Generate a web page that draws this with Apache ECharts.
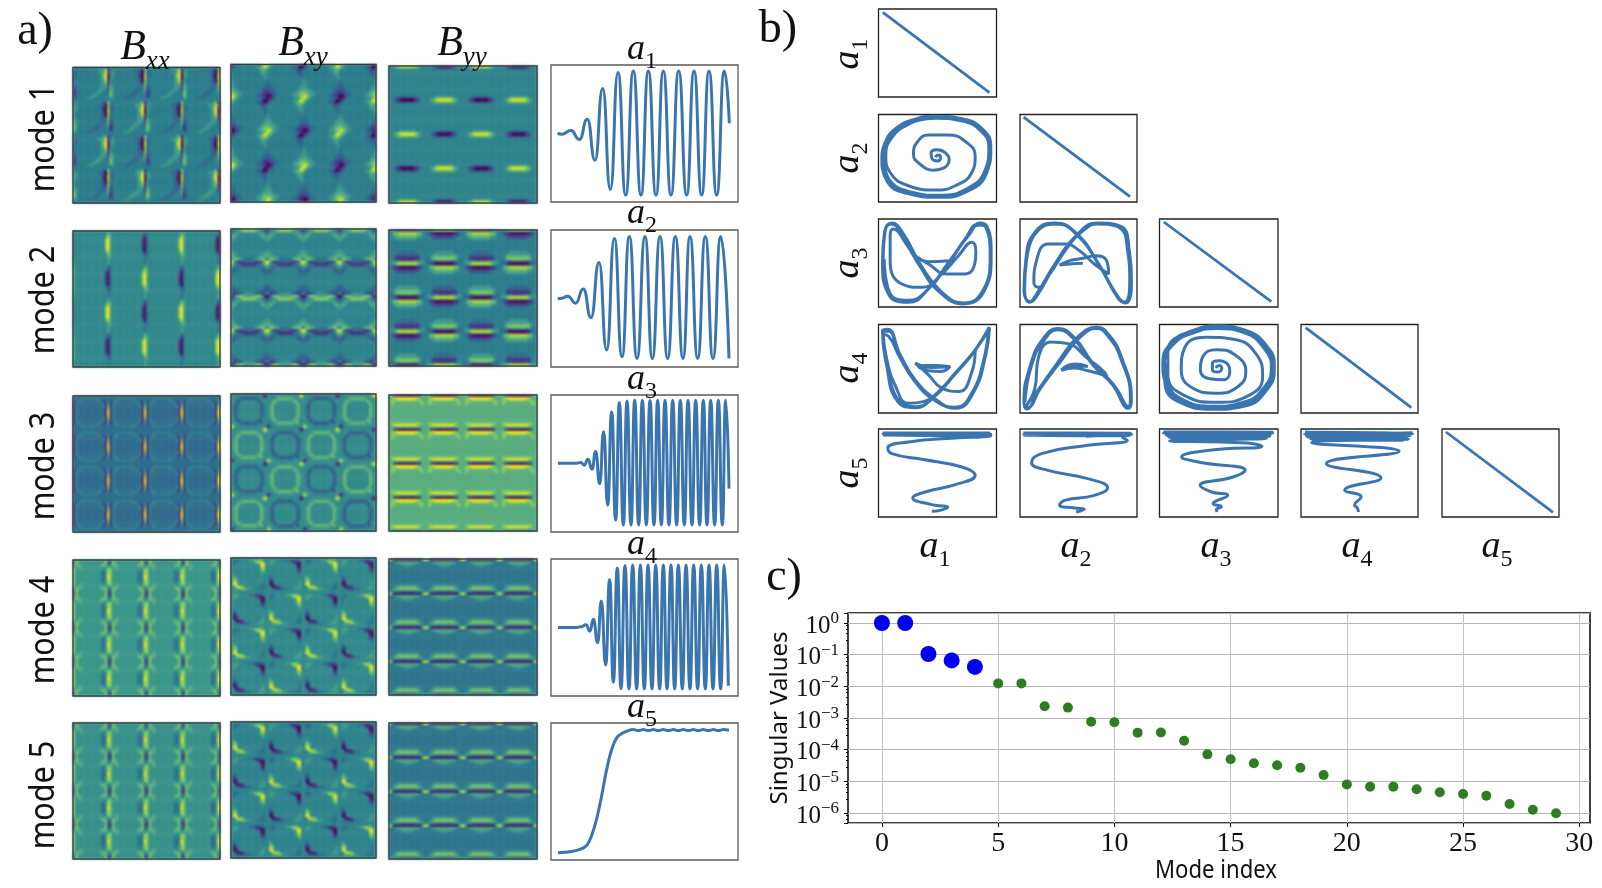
<!DOCTYPE html>
<html><head><meta charset="utf-8">
<style>html,body{margin:0;padding:0;background:#fff}#c{width:1602px;height:888px;filter:blur(0.4px)}</style>
<script src="https://cdn.jsdelivr.net/npm/echarts@6/dist/echarts.min.js"></script>
</head><body><div id="c"></div>
<script>
// ---------- panel c: singular values ----------
const modeIndex=[0,1,2,3,4,5,6,7,8,9,10,11,12,13,14,15,16,17,18,19,20,21,22,23,24,25,26,27,28,29];
const singularValues=[1,1,0.105,0.066,0.041,0.0124,0.0124,0.00234,0.00213,7.65e-4,7.3e-4,3.45e-4,3.5e-4,1.92e-4,7.1e-5,4.95e-5,3.7e-5,3.2e-5,2.7e-5,1.58e-5,8.0e-6,6.8e-6,6.8e-6,5.6e-6,4.5e-6,4.0e-6,3.5e-6,1.92e-6,1.27e-6,9.8e-7];
const xTickValues=[0,5,10,15,20,25,30];

// ---------- panel a: temporal coefficients (extrema) ----------
const a1T=[20,32,60,85,109,132,155,178,201,224,247,270,292,315,337,360,383,407,429,452,474,497,520,535];
const a1V=[1,-2,9,-18,43,-81,136,-169,184,-186,189,-186,189,-186,189,-186,189,-186,189,-186,189,-186,189,31];
const a2T=[20,32,50,74,97,120,144,167,190,213,235,258,282,304,327,350,373,396,417,440,463,486,509,534];
const a2V=[-1,1,7,-14,29,-58,109,-156,181,-176,187,-181,187,-181,187,-181,187,-181,187,-181,187,-181,187,-181];
const a3T=[21,77,89,100,111,123,134,146,158,170,182,194,205,217,228,240,251,263,274,286,297,309,320,331,342,354,365,377,388,400,411,423,434,446,457,468,479,491,502,514,524,534];
const a3V=[1,1,3,-5,13,-17,36,-61,96,-126,156,-171,184,-186,189,-186,191,-186,191,-186,191,-186,191,-186,191,-186,191,-186,191,-186,191,-186,191,-186,191,-186,191,-186,191,-186,191,-76];
const a4T=[21,77,89,105,117,127,140,151,164,176,187,199,210,222,234,245,257,268,280,291,303,314,326,337,348,360,371,382,394,405,417,428,440,451,463,474,486,497,509,520,532];
const a4V=[0,0,2,8,-11,25,-46,80,-113,144,-165,180,-185,187,-186,189,-186,189,-186,189,-186,189,-186,189,-186,189,-186,189,-186,189,-186,189,-186,189,-186,189,-186,189,-186,189,-176];
const a5T=[21,57,87,107,122,137,152,167,182,197,212,232,247,262,277,292,307,322,337,352,367,382,397,412,427,442,457,472,487,502,517,534];
const a5V=[-185,-182,-175,-163,-133,-83,-13,67,127,162,175,184,187,184,187,184,187,184,187,184,187,184,187,184,187,184,187,184,187,184,187,185];

// ---------- panel b: phase portraits (unit: crop pixel on unlabelled axes) ----------
const d11=[[13,10],[333,251]], d22=[[11,8],[333,248]], d33=[[13,9],[334,248]], d44=[[14,9],[334,248]], d55=[[12,9],[336,250]];
const p21=[[170,128],[180,122],[186,128],[178,140],[160,132],[158,116],[175,106],[200,115],[212,136],[195,162],[165,168],[125,150],[105,120],[115,85],[150,62],[210,62],[265,85],[290,125],[280,175],[230,215],[170,228],[90,215],[35,175],[22,125],[40,70],[90,30],[160,10],[240,14],[305,42],[333,95],[322,170],[270,222],[190,244],[90,232],[30,195],[10,140],[20,85],[55,40],[110,14],[170,5],[250,13],[315,47],[337,100],[325,175],[270,230],[180,250],[85,238],[25,200],[12,140],[25,80],[60,38],[110,17],[170,8],[250,16],[312,50],[334,100],[322,172],[268,227],[180,247],[87,235],[28,198],[15,140],[28,82],[62,41],[112,20],[170,11],[248,19],[309,52],[331,100],[319,170],[265,224],[180,244],[90,232],[32,196],[18,140]];
const p31=[[210,125],[150,128],[110,110],[150,135],[205,165],[260,165],[292,100],[280,70],[240,110],[190,165],[130,205],[70,195],[35,125],[35,50],[45,30],[80,70],[130,150],[190,220],[255,252],[310,220],[335,120],[328,30],[305,12],[270,50],[210,130],[150,210],[90,250],[30,225],[12,130],[18,40],[40,12],[75,45],[125,135],[185,215],[250,255],[315,220],[338,110],[325,22],[300,15],[260,60],[205,140],[145,215],[90,247],[30,222],[14,120],[20,35],[38,15],[72,48],[122,138],[182,218],[250,252],[312,218],[335,110],[322,25],[302,18],[263,58],[208,137],[148,212],[90,244],[33,220],[17,120]];
const p32=[[190,133],[150,135],[120,138],[150,125],[190,118],[230,110],[262,125],[268,165],[225,135],[180,95],[135,75],[85,75],[50,125],[42,190],[55,205],[90,165],[140,90],[185,40],[240,14],[300,25],[325,90],[332,190],[315,250],[295,235],[240,140],[175,50],[110,15],[50,40],[20,120],[14,210],[30,250],[55,225],[110,130],[170,50],[235,12],[305,22],[330,90],[337,200],[318,252],[290,225],[235,130],[170,42],[105,12],[45,40],[18,120],[12,215],[30,248],[52,222],[107,133],[167,53],[233,15],[302,25],[327,92],[334,200],[316,249],[293,228],[237,133],[172,45],[107,15],[47,43],[21,120]];
const p41=[[210,125],[170,122],[120,125],[150,138],[185,140],[215,125],[160,128],[110,115],[150,150],[190,190],[240,200],[280,142],[290,80],[262,110],[195,185],[135,230],[90,235],[50,182],[25,105],[14,30],[30,35],[65,100],[110,170],[170,225],[230,249],[280,205],[320,95],[333,10],[295,70],[230,145],[170,210],[110,247],[60,232],[25,125],[12,18],[28,14],[65,90],[110,165],[170,222],[232,250],[282,208],[322,90],[332,8],[292,75],[230,148],[170,212],[110,248],[58,230],[24,120],[14,20],[30,20],[62,92],[107,167],[167,225],[230,247],[279,206],[319,92],[329,14],[289,77],[228,150],[168,215],[112,245],[61,228],[27,120]];
const p42=[[125,135],[165,118],[205,125],[160,122],[125,137],[165,130],[205,138],[250,150],[265,162],[255,142],[205,102],[145,57],[95,52],[55,102],[45,190],[15,247],[55,195],[115,112],[175,37],[230,10],[265,32],[305,102],[335,222],[330,247],[285,182],[225,122],[165,42],[115,14],[75,42],[35,122],[12,230],[20,252],[60,190],[120,108],[180,35],[232,8],[268,30],[308,100],[337,225],[328,250],[282,178],[222,118],[165,40],[115,12],[72,40],[32,120],[12,235],[22,248],[63,188],[122,111],[182,38],[232,12],[265,33],[305,102],[334,222],[326,246],[280,180],[220,120],[163,43],[115,16],[75,44],[35,122],[15,232]];
const p43=[[168,129],[178,122],[186,130],[175,142],[158,135],[158,115],[178,108],[205,120],[210,140],[190,165],[150,162],[122,135],[130,95],[170,75],[225,90],[258,140],[235,185],[170,205],[100,190],[65,135],[75,70],[140,38],[225,45],[290,90],[308,155],[270,210],[170,232],[75,212],[25,150],[25,80],[85,25],[170,12],[260,24],[318,78],[335,135],[310,195],[240,235],[160,246],[70,225],[20,170],[12,110],[40,55],[100,20],[170,6],[260,20],[322,72],[340,125],[320,190],[250,240],[160,250],[70,232],[20,180],[10,115],[38,52],[100,18],[170,4],[258,18],[325,70],[343,125],[323,192],[252,244],[160,253],[68,235],[17,182],[13,112],[43,53],[102,22],[170,9],[256,22],[319,74],[337,125],[317,188],[248,238],[160,247],[72,229],[23,178],[15,115],[45,56],[104,24],[170,12],[254,25],[316,76],[334,125],[314,186],[246,235],[160,244],[74,226],[26,176],[18,115]];
const p51=[[160,247],[185,244],[208,235],[160,227],[103,207],[140,189],[230,167],[290,139],[250,114],[130,91],[40,74],[28,57],[90,39],[230,27],[335,21],[337,15],[13,14],[335,12],[13,12],[335,16],[13,16],[335,19],[13,18],[335,22],[200,20]];
const p52=[[170,249],[195,241],[165,237],[120,229],[135,214],[225,199],[265,176],[205,149],[85,124],[35,101],[65,74],[205,49],[325,34],[310,24],[338,16],[10,15],[335,18],[10,12],[335,13],[10,17],[330,20],[10,19],[336,15],[200,22]];
const p53=[[172,249],[170,242],[185,233],[160,224],[204,199],[156,189],[121,169],[220,144],[256,124],[116,99],[66,84],[150,64],[306,52],[260,42],[30,36],[320,28],[25,22],[330,18],[12,12],[338,10],[12,9],[338,13],[20,18],[330,22],[30,28],[300,30]];
const p54=[[174,249],[170,236],[162,229],[182,204],[132,184],[242,147],[77,104],[297,67],[32,41],[325,30],[20,24],[330,20],[10,14],[338,12],[12,18],[335,16],[25,26],[320,28],[12,10],[338,14],[30,32],[310,34]];

// ---------- panel a: one read cell of each field image, digit 0-9 = colour level ----------
const m1xx=["4444444444444561","4344444444455681","3344444444455691","3344444444445790","3344444444445790","3444444444445690","3444444444445681","3444444444445571","2444444444445561","2344444444445552","2344444444455542","1344444444555443","1344444445554443","1344444455544444","3344445554444444","4444444444444444"];
const m1xy=["1234444444445579","2344444444455688","3444444444445666","4444444444444565","4444444444444555","4444444444444455","4444444444444445","5444444444444444","5444444444444444","5544444444444443","5544444444444433","6554444444444433","6655444444444322","7665544444443321","8865544444433211","9765444444443321"];
const m1yy=["4456788888876544","4445555555555444","4444444444444444","4444444444444444","4444444444444444","4444444444444444","4444444444444444","4444444444444444","4444444444444444","4444444444444444","4444444444444444","4444444444444444","4444444444444444","4444444444444444","4444333333334444","4432100000012344"];
const m2xx=["4444444444444445","3444444444444446","3444444444444457","3444444444444468","3444444444444479","3444444444444479","3444444444444479","3444444444444479","3444444444444479","3444444444444468","3444444444444457","3444444444444446","3444444444444445","4444444444444445","4444444444444445","4444444444444445"];
const m2xy=["1345677777765431","3455566666655543","4555444444445554","5654444444444565","5544444444444455","5444444444444445","4444444444444444","4444444444444444","4444444444444444","4444444444444444","5444444444444445","5544444444444455","6554444444444556","5665544444455665","4766543333456674","9521123333211259"];
const m2yy=["4432111111112344","4577888888887754","4566777777776654","4456666666665544","4445555555554444","4444444444444444","4444444444444444","4444444444444444","4444444444444444","4444444444444444","4444333333334444","4443333333333444","4432222222222344","4431111111111344","4533322222233354","5567888888887655"];
const m3xx=["3333333333333333","3334444444433333","2344333333443234","1343333333334215","1433333333333416","1433333333333417","1433333333333318","1433333333333319","1433333333333319","1433333333333318","1433333333333417","1433333333333416","1343333333334215","2344333333443234","3334444444433333","3333333333333333"];
const m3xy=["4444444444444410","4444333333334421","4443322222233444","4432344444432344","4423444444443244","4324444444444234","4324444444444234","4324444444444234","4324444444444234","4324444444444234","4324444444444234","4423444444443244","4432344444432344","4443322222233144","6544333333334444","8644444444444444"];
const m3yy=["6611000000001166","6789999999998766","6777888888877766","6776666666666776","6766666666666676","6666666666666666","6666666666666666","6666666666666666","6666666666666666","6666666666666666","6666666666666666","6666666666666666","6666666666666666","6777777777777766","6789999999998766","6655555555555566"];
const m4xx=["2755555555555572","3765555555555673","4766555555556764","6566555555556565","7556555555555457","7555555555554458","7555555555554358","7555555555554359","7555555555554359","7555555555554358","7555555555554458","7556555555555457","6566555555556565","4766555555556764","3765555555555673","2755555555555572"];
const m4xy=["4444444444444544","4333444455677654","4334444444467884","4344444444444894","4444444444444784","4444444444444674","4444444444444564","4444444444444454","4544444444444444","4654444444444444","4764444444444444","4874444444444434","4984444444444434","4488764444444334","4456776554443334","4454444444444444"];
const m4yy=["9511111111111159","4456666666666544","4445566666655444","4444445555444444","4444444444444444","4444444444444444","4444444444444444","4444444444444444","4444444444444444","4444444444444444","4444444444444444","4444444444444444","4445555555555444","4456777777776544","4567777777777654","5544333333334455"];
const m5xx=m4xx, m5xy=m4xy, m5yy=m4yy;

// ---------- text ----------
const modeLabels=["mode 1","mode 2","mode 3","mode 4","mode 5"];
const fieldNames=["xx","xy","yy"];
const coefSubs=["1","2","3","4","5"];

// ---------- layout ----------
const BLUE='#3a75b0';
const viridis=['#440154','#482878','#3e4a89','#31688e','#2b7e8c','#3a968a','#58ac7e','#7ccb5e','#b5de2b','#fde725'];
const grids=[],xAxes=[],yAxes=[],series=[],graphics=[],heatIdx=[];
function addGrid(l,t,r,b,border,bw){grids.push({left:l,top:t,width:r-l,height:b-t,show:!!border,borderColor:border||'transparent',borderWidth:bw||0,containLabel:false,backgroundColor:'#fff'});return grids.length-1;}
function hiddenAxis(idx,extra){return Object.assign({gridIndex:idx,show:false,axisLine:{show:false},axisTick:{show:false},axisLabel:{show:false},splitLine:{show:false}},extra);}

// heat panels
const fieldRows=[[67.5,203,64.5,202,66,203],[231,367,229,366,230,366],[396,532,394,531,395,531],[560,696,558,695,559,695],[723,859,722,858,723,859]];
const fieldCols=[[73,220],[231,376],[389,537]];
const fieldPanels=[
 [[m1xx,'c',4,0],[m1xy,'c',4,0],[m1yy,'c',4,0.2]],
 [[m2xx,'c',4,0.4],[m2xy,'r',4,0.2],[m2yy,'c',4,0]],
 [[m3xx,'',3,0.2],[m3xy,'c',4,0.5],[m3yy,'',6,0]],
 [[m4xx,'',5,0],[m4xy,'c',4,0.4],[m4yy,'',4,-0.4]],
 [[m5xx,'',5,-0.2],[m5xy,'c',4,0.2],[m5yy,'',4,-0.4]]];
const TILE=16;
const cats=[...Array(TILE*4).keys()];
fieldPanels.forEach((row,r)=>row.forEach((p,c)=>{
  const g=addGrid(fieldCols[c][0],fieldRows[r][c*2],fieldCols[c][1],fieldRows[r][c*2+1]);
  xAxes.push(hiddenAxis(g,{type:'category',data:cats}));
  yAxes.push(hiddenAxis(g,{type:'category',data:cats,inverse:true}));
  const [tile,flip,bg,shift]=p,data=[];
  for(let i=0;i<4;i++)for(let j=0;j<4;j++){
    const neg=(flip==='c'&&(i+j)%2===1)||(flip==='r'&&i%2===1);
    for(let y=0;y<TILE;y++)for(let x=0;x<TILE;x++){
      let v=+(tile[y][x]??bg);
      if(neg)v=Math.max(0,Math.min(9,2*bg-v));
      data.push([j*TILE+x,i*TILE+y,v+shift]);
    }
  }
  heatIdx.push(series.length);
  series.push({type:'heatmap',zlevel:1,xAxisIndex:g,yAxisIndex:g,data,silent:true,progressive:0,animation:false,itemStyle:{borderWidth:0}});
  graphics.push({type:'rect',zlevel:2,z:90,silent:true,shape:{x:fieldCols[c][0],y:fieldRows[r][c*2],width:fieldCols[c][1]-fieldCols[c][0],height:fieldRows[r][c*2+1]-fieldRows[r][c*2]},style:{fill:'none',stroke:'#2f4040',lineWidth:1.4}});
}));

// time series
const tsRows=[[65,202],[230,367],[395,532],[559,696],[723,860]];
const tsData=[[a1T,a1V],[a2T,a2V],[a3T,a3V],[a4T,a4V],[a5T,a5V]];
tsData.forEach((d,r)=>{
  const g=addGrid(551,tsRows[r][0],738,tsRows[r][1],'#5a5a5a',1.3);
  xAxes.push(hiddenAxis(g,{type:'value',min:0,max:561}));
  yAxes.push(hiddenAxis(g,{type:'value',min:-207,max:207}));
  const s={type:'line',xAxisIndex:g,yAxisIndex:g,data:d[0].map((t,i)=>[t,d[1][i]]),showSymbol:false,smooth:r===4?0.3:0.55,lineStyle:{color:BLUE,width:3},silent:true,animation:false};
  if(r<4)s.smoothMonotone='x';
  series.push(s);
});

// phase grid
const phRows=[[9,97],[114.5,202],[219,307],[324.5,413],[429,517]];
const phCols=[[878.5,996.5],[1020,1137],[1159.5,1278],[1301,1418],[1442,1559]];
const phase=[[d11],[p21,d22],[p31,p32,d33],[p41,p42,p43,d44],[p51,p52,p53,p54,d55]];
phase.forEach((row,r)=>row.forEach((d,c)=>{
  const g=addGrid(phCols[c][0],phRows[r][0],phCols[c][1],phRows[r][1],'#222',1.3);
  xAxes.push(hiddenAxis(g,{type:'value',min:0,max:354}));
  yAxes.push(hiddenAxis(g,{type:'value',min:0,max:264,inverse:true}));
  series.push({type:'line',xAxisIndex:g,yAxisIndex:g,data:d,showSymbol:false,smooth:r===c?false:0.5,lineStyle:{color:BLUE,width:r===c?2.8:3},silent:true,animation:false});
}));

// singular value axes
const gc=addGrid(848,613,1590,823,'#000',1.5);
xAxes.push({gridIndex:gc,type:'value',min:-1.46,max:30.46,axisLine:{show:false,onZero:false},
  axisTick:{show:true,length:4,customValues:xTickValues,lineStyle:{color:'#000'}},
  axisLabel:{customValues:xTickValues,fontFamily:'Liberation Serif',fontSize:28,color:'#111',margin:7},
  splitLine:{show:true,lineStyle:{color:'#c4c4c4',width:1}}});
yAxes.push({gridIndex:gc,type:'log',logBase:10,min:4.83e-7,max:2.07,axisLine:{show:false,onZero:false},
  axisTick:{show:true,length:4,lineStyle:{color:'#000'}},
  minorTick:{show:true,length:2,splitNumber:5,lineStyle:{color:'#000'}},
  axisLabel:{margin:9,showMinLabel:false,showMaxLabel:false,
    formatter:v=>{const e=Math.log10(v);return Math.abs(e-Math.round(e))<1e-6?`{b|10}{e|${Math.round(e)===0?'0':'\u2212'+Math.abs(Math.round(e))}}`:'';},
    rich:{b:{fontFamily:'Liberation Serif',fontSize:25,color:'#111',padding:[6,0,0,0]},e:{fontFamily:'Liberation Serif',fontSize:17,color:'#111',padding:[0,0,8,0]}}},
  splitLine:{show:true,lineStyle:{color:'#b4b4b4',width:1.2}}});
const pairs=modeIndex.map((m,i)=>[m,singularValues[i]]);
series.push({type:'scatter',xAxisIndex:gc,yAxisIndex:gc,data:pairs.slice(0,5),symbolSize:16,itemStyle:{color:'#0000f0',opacity:1},silent:true,animation:false,z:5});
series.push({type:'scatter',xAxisIndex:gc,yAxisIndex:gc,data:pairs.slice(5),symbolSize:10,itemStyle:{color:'#2f7d22',opacity:1},silent:true,animation:false,z:5});

// text
const SERIF='Liberation Serif';
function txt(text,x,y,font,opts){opts=opts||{};graphics.push({type:'text',zlevel:2,z:100,silent:true,x,y,rotation:opts.rot||0,scaleX:opts.sx||1,scaleY:opts.sy||1,style:Object.assign({text,fill:'#111',align:'center',verticalAlign:'middle',fontFamily:font.f,fontSize:font.s,fontStyle:font.i?'italic':'normal'},opts.rich?{rich:opts.rich}:{})});}
function math(base,sub,x,y,bs,ss,rot){
  const upright=/^[0-9]+$/.test(sub);
  txt(`{b|${base}}{s|${sub}}`,x,y,{f:SERIF,s:bs},{rot,rich:{
    b:{fontFamily:SERIF,fontStyle:'italic',fontSize:bs,fill:'#111',lineHeight:bs*1.3,verticalAlign:'middle'},
    s:{fontFamily:SERIF,fontStyle:upright?'normal':'italic',fontSize:ss,fill:'#111',lineHeight:bs*1.3,verticalAlign:'bottom',padding:[bs*0.42,0,0,0]}}});
}
txt('a)',35,32,{f:SERIF,s:46});
txt('b)',778,30,{f:SERIF,s:46});
txt('c)',784,578,{f:SERIF,s:46});
const fieldTitleX=[145,303,462], fieldTitleY=[48,44,44];
fieldNames.forEach((n,i)=>math('B',n,fieldTitleX[i],fieldTitleY[i],42,27));
const tsTitleY=[50,214,380,545,708];
coefSubs.forEach((s,i)=>math('a',s,642,tsTitleY[i],36,24));
const modeY=[138,300,466,630,795];
modeLabels.forEach((s,i)=>txt(s,44,modeY[i],{f:'Noto Sans',s:34},{rot:Math.PI/2,sx:0.9}));
const rowLabelY=[54,158,263,368,473], colLabelX=[935,1076,1216,1357,1497];
coefSubs.forEach((s,i)=>{math('a',s,848,rowLabelY[i],38,24,Math.PI/2);math('a',s,colLabelX[i],547,38,24);});
txt('Singular Values',780,718,{f:'Noto Sans',s:24},{rot:Math.PI/2});
txt('Mode index',1216,871,{f:'Noto Sans',s:26},{sx:0.85});

const chart=echarts.init(document.getElementById('c'),null,{renderer:'canvas',width:1602,height:888});
chart.setOption({animation:false,backgroundColor:'#fff',grid:grids,xAxis:xAxes,yAxis:yAxes,series,graphic:graphics,
  visualMap:[{type:'continuous',show:false,min:0,max:9,dimension:2,seriesIndex:heatIdx,inRange:{color:viridis}}]});
// the reference's field images are soft; soften only the heat layer
const layers=chart.getDom().querySelectorAll('canvas');
if(layers.length>1)layers[1].style.filter='blur(0.8px)';
</script></body></html>
